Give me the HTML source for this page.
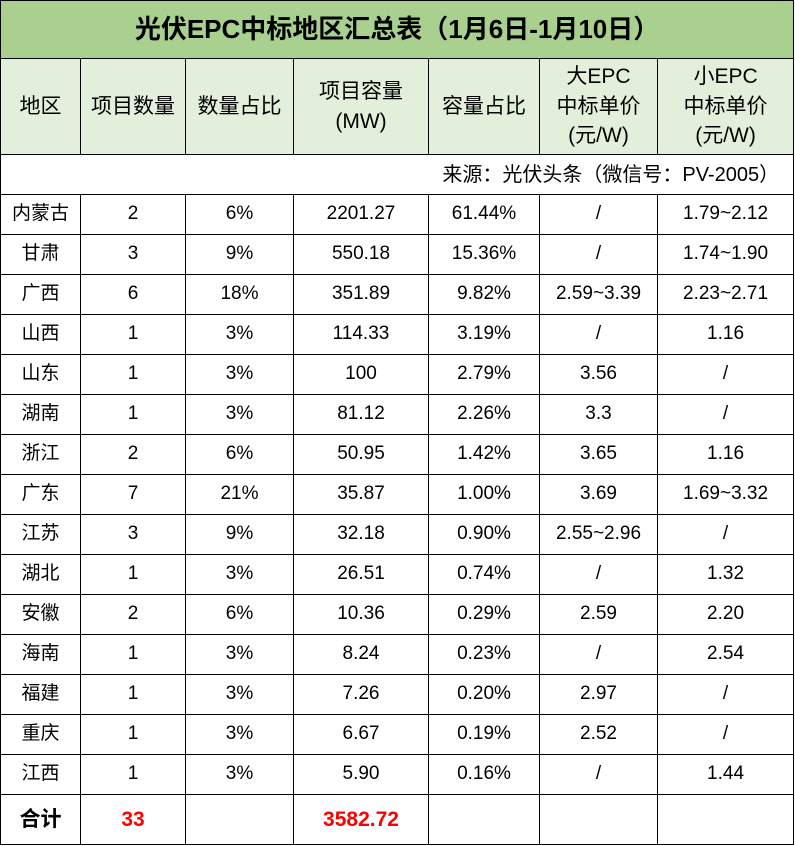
<!DOCTYPE html>
<html><head><meta charset="utf-8"><style>
body{margin:0;background:#fff;}
table{border-collapse:collapse;table-layout:fixed;position:absolute;left:0;top:0;width:793px;font-family:"Liberation Sans","Noto Sans CJK SC",sans-serif;color:#000;}
td{border:1.5px solid #000;text-align:center;padding:0;font-size:19px;height:39px;line-height:1.2;white-space:nowrap;overflow:hidden;}
.t td{background:#a9d08e;font-size:26px;font-weight:bold;height:57px;}
.h td{background:#e2efda;font-size:21px;height:95px;line-height:1.4;}
.s td{text-align:right;padding-right:14px;font-size:20px;}
.tot td{height:49px;font-weight:bold;font-size:21px;}
.red{color:#f00;font-size:26px;}
</style></head><body>
<table>
<colgroup><col style="width:80px"><col style="width:105px"><col style="width:108px"><col style="width:135px"><col style="width:111px"><col style="width:118px"><col style="width:136px"></colgroup>
<tr class="t"><td colspan="7">光伏EPC中标地区汇总表（1月6日-1月10日）</td></tr>
<tr class="h"><td>地区</td><td>项目数量</td><td>数量占比</td><td>项目容量<br>(MW)</td><td>容量占比</td><td>大EPC<br>中标单价<br>(元/W)</td><td>小EPC<br>中标单价<br>(元/W)</td></tr>
<tr class="s"><td colspan="7">来源：光伏头条（微信号：PV-2005）</td></tr>
<tr><td>内蒙古</td><td>2</td><td>6%</td><td>2201.27</td><td>61.44%</td><td>/</td><td>1.79~2.12</td></tr>
<tr><td>甘肃</td><td>3</td><td>9%</td><td>550.18</td><td>15.36%</td><td>/</td><td>1.74~1.90</td></tr>
<tr><td>广西</td><td>6</td><td>18%</td><td>351.89</td><td>9.82%</td><td>2.59~3.39</td><td>2.23~2.71</td></tr>
<tr><td>山西</td><td>1</td><td>3%</td><td>114.33</td><td>3.19%</td><td>/</td><td>1.16</td></tr>
<tr><td>山东</td><td>1</td><td>3%</td><td>100</td><td>2.79%</td><td>3.56</td><td>/</td></tr>
<tr><td>湖南</td><td>1</td><td>3%</td><td>81.12</td><td>2.26%</td><td>3.3</td><td>/</td></tr>
<tr><td>浙江</td><td>2</td><td>6%</td><td>50.95</td><td>1.42%</td><td>3.65</td><td>1.16</td></tr>
<tr><td>广东</td><td>7</td><td>21%</td><td>35.87</td><td>1.00%</td><td>3.69</td><td>1.69~3.32</td></tr>
<tr><td>江苏</td><td>3</td><td>9%</td><td>32.18</td><td>0.90%</td><td>2.55~2.96</td><td>/</td></tr>
<tr><td>湖北</td><td>1</td><td>3%</td><td>26.51</td><td>0.74%</td><td>/</td><td>1.32</td></tr>
<tr><td>安徽</td><td>2</td><td>6%</td><td>10.36</td><td>0.29%</td><td>2.59</td><td>2.20</td></tr>
<tr><td>海南</td><td>1</td><td>3%</td><td>8.24</td><td>0.23%</td><td>/</td><td>2.54</td></tr>
<tr><td>福建</td><td>1</td><td>3%</td><td>7.26</td><td>0.20%</td><td>2.97</td><td>/</td></tr>
<tr><td>重庆</td><td>1</td><td>3%</td><td>6.67</td><td>0.19%</td><td>2.52</td><td>/</td></tr>
<tr><td>江西</td><td>1</td><td>3%</td><td>5.90</td><td>0.16%</td><td>/</td><td>1.44</td></tr>
<tr class="tot"><td>合计</td><td class="red">33</td><td></td><td class="red">3582.72</td><td></td><td></td><td></td></tr>
</table>
</body></html>
